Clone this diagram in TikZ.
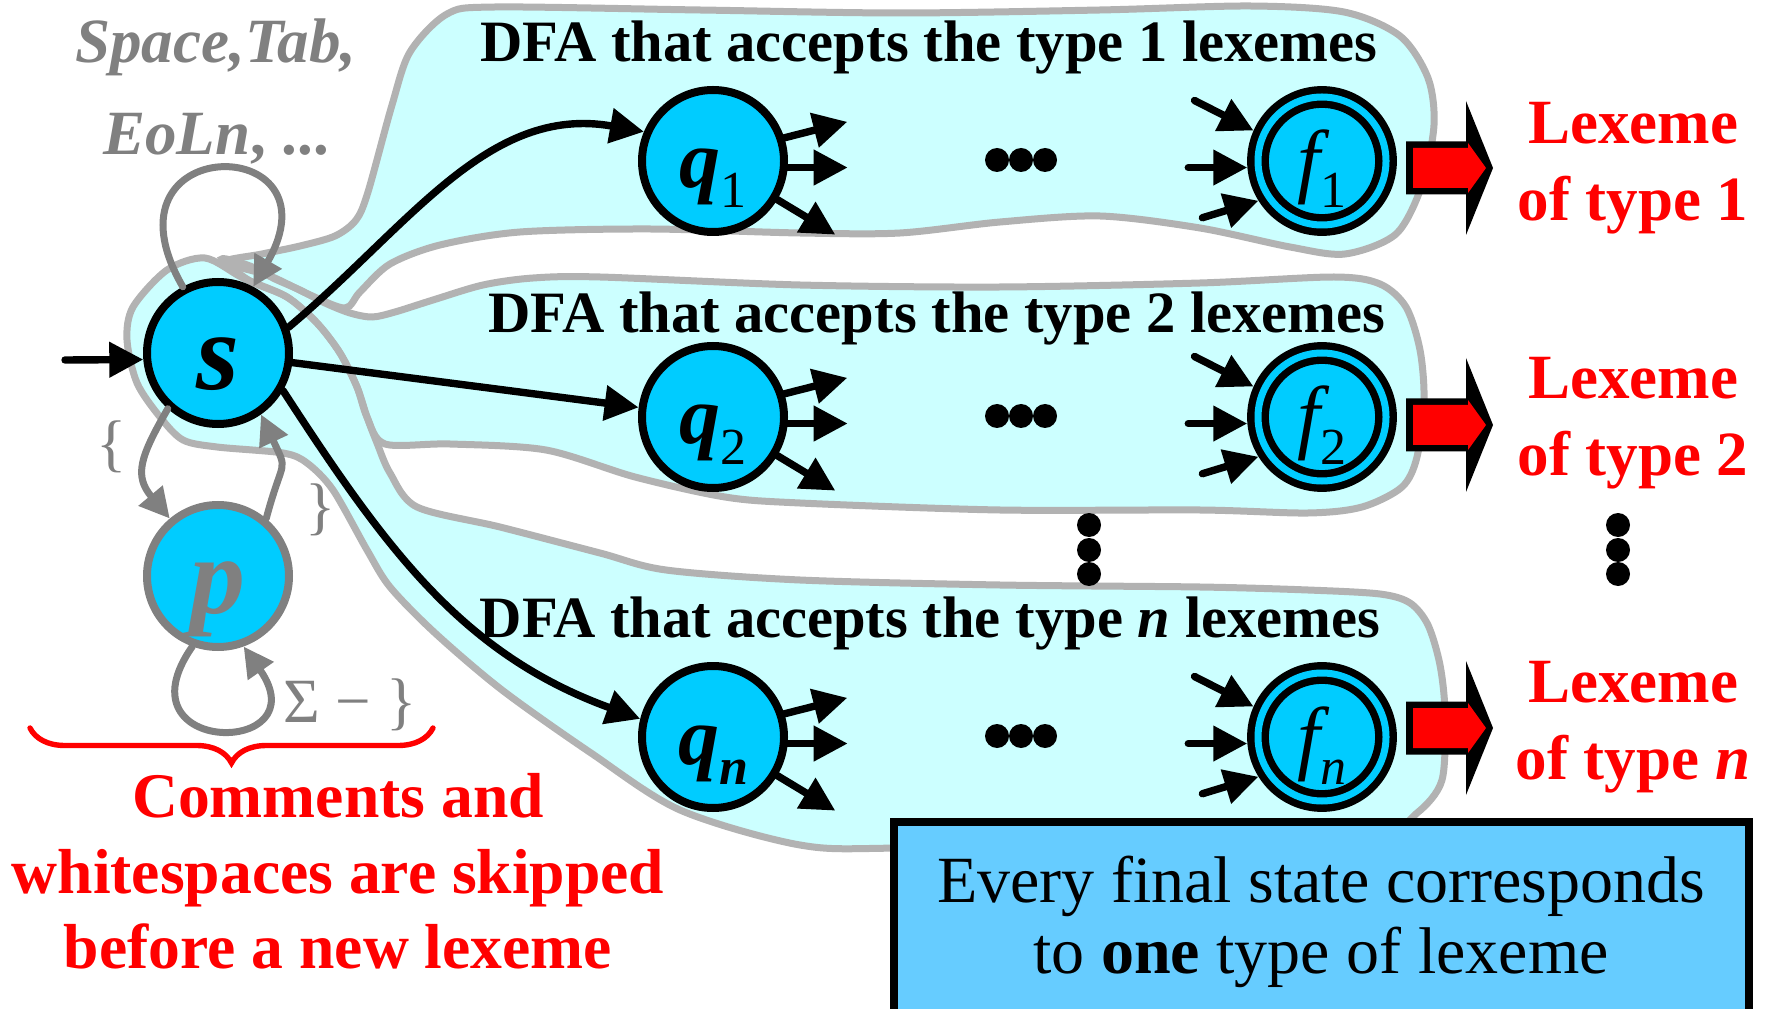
\documentclass[tikz,border=0pt]{standalone}
\usepackage{fontspec}
\setmainfont{Liberation Serif}
\usetikzlibrary{arrows.meta,calc,decorations.pathreplacing}
\definecolor{stateblue}{rgb}{0,0.8,1}
\definecolor{blobcyan}{rgb}{0.8,1,1}
\definecolor{blobgray}{rgb}{0.7,0.7,0.7}
\definecolor{loopgray}{rgb}{0.5,0.5,0.5}
\definecolor{noteblue}{rgb}{0.4,0.8,1}
\newcommand{\lowsub}[1]{\raisebox{-10pt}{\fontsize{26}{26}\selectfont #1}}

\begin{document}
\begin{tikzpicture}[line cap=round,x=0.5pt,y=0.5pt,
	state/.style={circle,draw=black,line width=4pt,fill=stateblue,minimum size=71pt,inner sep=0pt,
		font=\fontsize{41}{41}\selectfont,text height=28pt,text depth=1pt},
	bigstate/.style={state,font=\fontsize{55}{55}\selectfont\bfseries\itshape,text height=38pt,text depth=1pt},
	final/.style={state,double=stateblue,double distance=3.5pt,line width=3.7pt,minimum size=64pt,outer sep=5.5pt,
		font=\fontsize{41}{41}\selectfont},
	trans/.style={line width=3.7pt,-{Triangle[length=17pt,width=17pt]}},
	gtrans/.style={draw=loopgray,line width=3.5pt,-{Triangle[length=15pt,width=15pt]}},
	blobedge/.style={draw=blobgray,line width=3.5pt},
	hdr/.style={font=\fontsize{29.3}{29.3}\selectfont\bfseries,anchor=base},
	lexeme/.style={text=red,font=\fontsize{31.5}{38.5}\selectfont\bfseries,align=center},
	glabel/.style={text=loopgray,font=\fontsize{31.5}{31.5}\selectfont},
	redbrace/.style={draw=red,line width=2.7pt,decorate,decoration={brace,mirror,amplitude=17.5pt}},
	notebox/.style={draw=black,line width=3.7pt,fill=noteblue,line join=miter},
]
	\useasboundingbox (0,0) rectangle (1766,1008);
	\clip (0,0) rectangle (1766,1008);
	% the three DFA regions
	\path[save path=\blobone] plot[smooth cycle,tension=0.5] coordinates {
		(225,746) (262,754) (300,762) (335,772) (356,788) (368,816) (392,903) (410,956)
		(447,994) (495,1001) (700,998) (900,995) (1100,998) (1250,1002) (1344,996)
		(1400,972) (1428,930) (1434,883) (1422,823) (1396,774) (1345,754) (1290,761)
		(1200,780) (1100,792) (1000,786) (900,775) (800,775) (650,779) (520,776)
		(440,763) (390,744) (360,716) (345,700) (310,713) (270,732)};
	\path[save path=\blobtwo] plot[smooth cycle,tension=0.5] coordinates {
		(222,749) (250,742) (275,729) (300,718) (325,705) (350,695) (372,691) (395,696)
		(433,708) (483,723) (533,730) (600,731) (800,723) (1000,721) (1200,725)
		(1334,731) (1380,724) (1406,701) (1420,658) (1424,608) (1417,551) (1402,521)
		(1362,501) (1308,495) (1200,498) (1000,498) (800,505) (725,511) (635,531)
		(546,558) (450,564) (385,564) (367,591) (357,621) (340,655) (317,685)
		(287,711) (250,727)};
	\path[save path=\blobn] plot[smooth cycle,tension=0.5] coordinates {
		(205,750) (243,730) (287,711) (317,685) (340,655) (357,621) (367,591) (377,565)
		(390,535) (417,501) (500,481) (600,455) (666,438) (800,428) (1000,423)
		(1200,421) (1308,418) (1380,414) (1410,405) (1428,383) (1440,343) (1445,295)
		(1442,228) (1417,195) (1380,178) (1200,168) (900,160) (800,163) (680,198)
		(591,255) (502,318) (435,375) (390,421) (367,458) (333,518) (307,545)
		(283,555) (217,561) (183,568) (160,591) (137,625) (127,668) (133,701) (167,738)};
	\fill[blobcyan,use path=\blobone];
	\fill[blobcyan,use path=\blobtwo];
	\fill[blobcyan,use path=\blobn];
	\draw[blobedge,use path=\blobone];
	\draw[blobedge,use path=\blobtwo];
	\draw[blobedge,use path=\blobn];
	% states
	\node[bigstate] (s) at (218,655) {s};
	\node[bigstate,draw=loopgray,text=loopgray] (p) at (218,432) {p};
	\node[state] (q1) at (713,847) {{\bfseries\itshape q}\lowsub{1}};
	\node[state] (q2) at (713,591) {{\bfseries\itshape q}\lowsub{2}};
	\node[state] (qn) at (713,271) {{\bfseries\itshape q}\lowsub{\bfseries\itshape n}};
	\node[final] (f1) at (1322,847) {{\itshape f}\lowsub{1}};
	\node[final] (f2) at (1322,591) {{\itshape f}\lowsub{2}};
	\node[final] (fn) at (1322,271) {{\itshape f}\lowsub{\itshape n}};
	% transitions
	\coordinate (entry) at (65,648);
	\draw[trans] (entry) -- (s.185);
	\draw[trans] (s.20) to[out=40,in=170] (q1.157);
	\draw[trans] (s) -- (q2);
	\draw[trans] (s.-30) to[out=-57,in=160] (qn.166);
	\foreach \q in {q1,q2,qn}{
		\draw[trans] (\q.18) -- ++(63,16);
		\draw[trans] (\q.-5) -- ++(60,0);
		\draw[trans] (\q.-31) -- ++(58,-35);
	}
	\foreach \f in {f1,f2,fn}{
		\draw[trans] ($(\f.156)+(-59,30)$) -- (\f.156);
		\draw[trans] ($(\f.185)+(-59,0)$) -- (\f.185);
		\draw[trans] ($(\f.212)+(-56,-17)$) -- (\f.212);
	}
	% skipping loops
	\draw[gtrans] (s.118) .. controls +(120:180) and +(60:180) .. (s.62);
	\draw[gtrans] (s.228) to[out=240,in=130,looseness=1.3] (p.130);
	\draw[gtrans] (p.50) to[out=75,in=-65,looseness=1.6] (s.-55);
	\draw[gtrans] (p.250) .. controls +(235:135) and +(305:135) .. (p.290);
	\node[glabel,font=\fontsize{31.5}{46}\selectfont\bfseries,align=center] (wslab) at (216,916)
		{\textit{Space,Tab,}\\\textit{EoLn}, ...};
	\node[glabel] (openlab) at (112,561) {\{};
	\node[glabel] (closelab) at (321,498) {\}};
	\node[glabel,anchor=base west] (restlab) at (276,286) {Σ − \}};
	% dots
	\foreach \y in {848,592,272}
		\foreach \x in {997,1021,1045}
			\fill (\x,\y) circle[radius=6pt];
	\foreach \x in {1089,1618}
		\foreach \y in {483,458,434}
			\fill (\x,\y) circle[radius=6pt];
	% output arrows
	\foreach \y in {840,583,280}{
		\begin{scope}[shift={(1406,\y)}]
			\fill[black] (0,26.5) -- (60,26.5) -- (60,67) -- (87,0) -- (60,-67) -- (60,-26.5) -- (0,-26.5) -- cycle;
			\fill[red] (7,20) -- (62,20) -- (62,25) -- (80,0) -- (62,-25) -- (62,-20) -- (7,-20) -- cycle;
		\end{scope}
	}
	\node[lexeme] (lex1) at (1633,840) {Lexeme\\of type 1};
	\node[lexeme] (lex2) at (1633,585) {Lexeme\\of type 2};
	\node[lexeme] (lexn) at (1633,281) {Lexeme\\of type \textit{n}};
	% headers
	\node[hdr] (hdr1) at (929,946) {DFA that accepts the type 1 lexemes};
	\node[hdr] (hdr2) at (937,675) {DFA that accepts the type 2 lexemes};
	\node[hdr] (hdrn) at (930,371) {DFA that accepts the type \textit{n} lexemes};
	% comment under the skipping part
	\draw[redbrace] (30,280) -- (433,280);
	\node[text=red,font=\fontsize{31.8}{37.75}\selectfont\bfseries,align=center] (skip) at (338,136.5)
		{Comments and\\whitespaces are skipped\\before a new lexeme};
	% note box
	\draw[notebox] (894,186) rectangle (1749,-30);
	\node[font=\fontsize{33}{35.5}\selectfont,align=center] (note) at (1321,86)
		{Every final state corresponds\\to \textbf{one} type of lexeme};
\end{tikzpicture}
\end{document}
